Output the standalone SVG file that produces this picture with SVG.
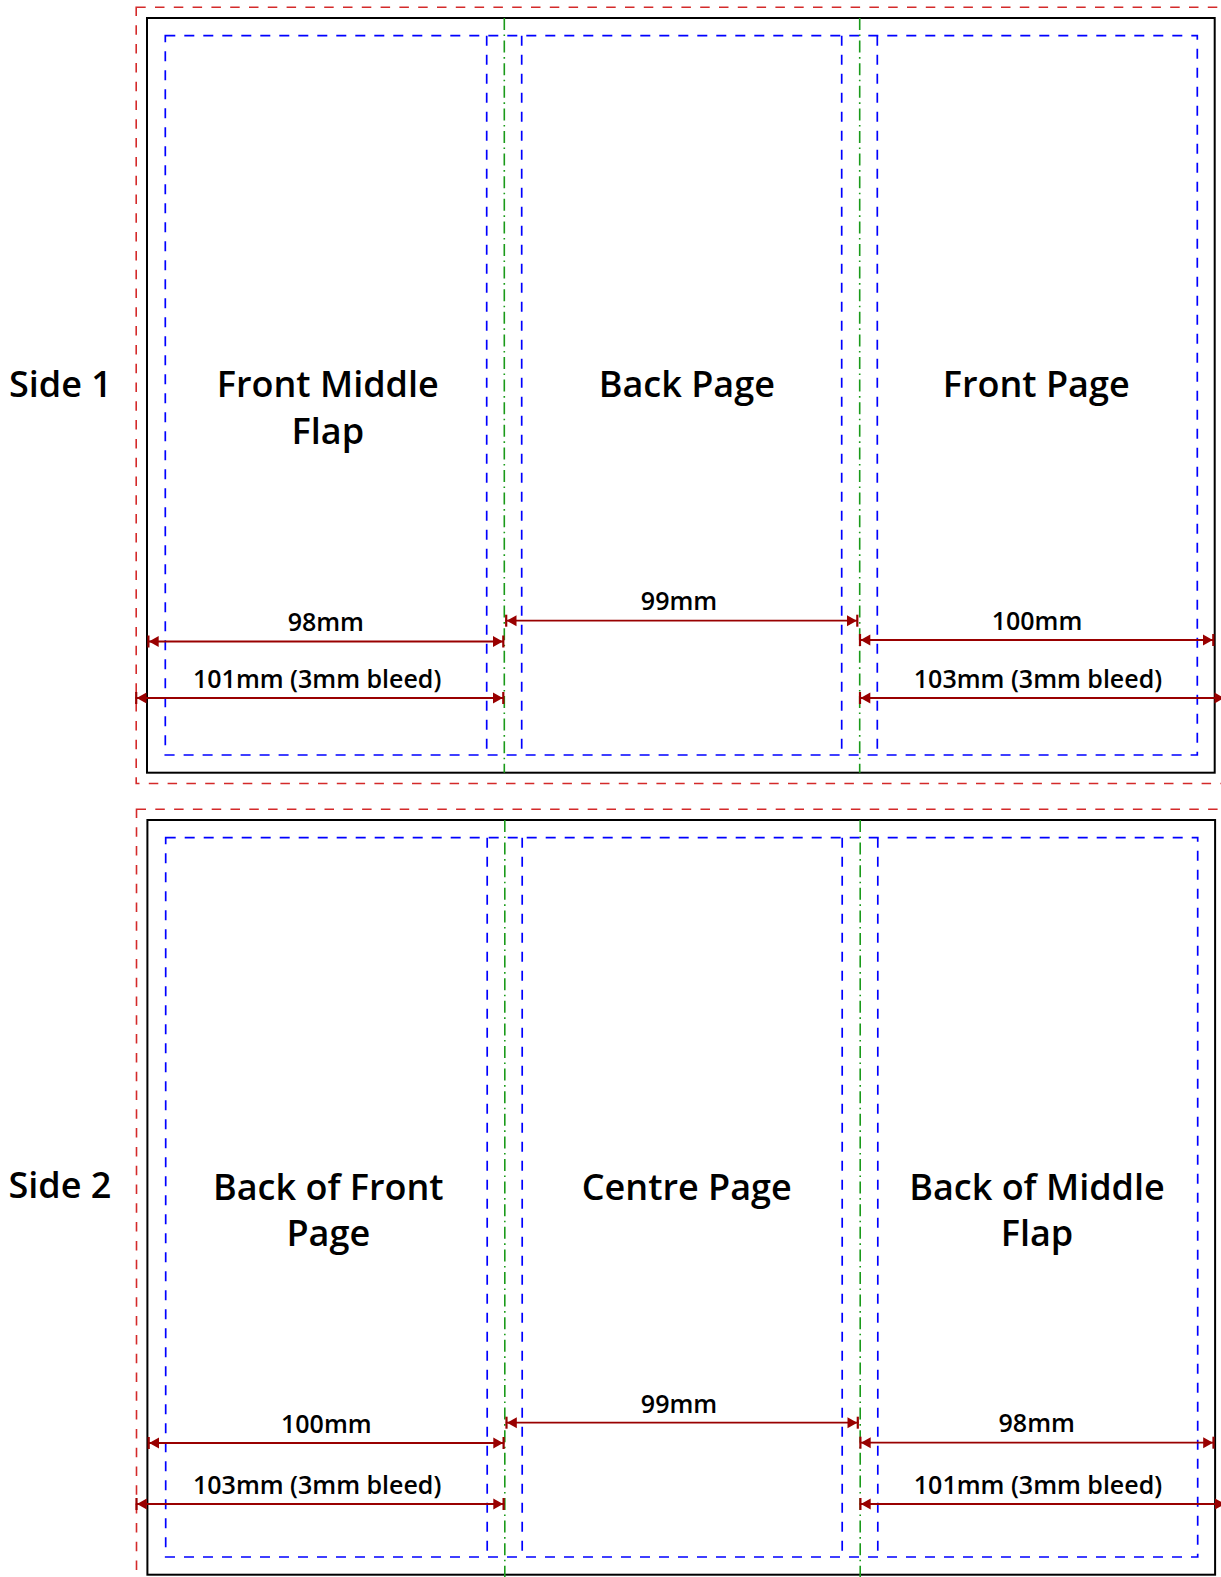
<svg xmlns="http://www.w3.org/2000/svg" width="1221" height="1577" viewBox="0 0 1221 1577">
<defs>
<style>
.bleed{fill:none;stroke:#d42a2a;stroke-width:1.6;stroke-dasharray:9.5 9.3}
.trim{fill:none;stroke:#000;stroke-width:2}
.safe{fill:none;stroke:#0000ff;stroke-width:1.7;stroke-dasharray:10 9}
.fold{fill:none;stroke:#1a9a1a;stroke-width:1.6;stroke-dasharray:12 4.5 1.6 4.5}
.dim{fill:none;stroke:#990000;stroke-width:1.8;marker-start:url(#ah);marker-end:url(#ah)}
.side{font-family:"Open Sans","Liberation Sans",sans-serif;font-weight:600;font-size:36px;fill:#000;text-anchor:middle}
.title{font-family:"Open Sans","Liberation Sans",sans-serif;font-weight:600;font-size:36px;fill:#000;text-anchor:middle}
.lbl{font-family:"Open Sans","Liberation Sans",sans-serif;font-weight:600;font-size:25px;fill:#000;text-anchor:middle}
</style>
<marker id="ah" markerUnits="userSpaceOnUse" viewBox="-14 -8 16 16" refX="0" refY="0" markerWidth="16" markerHeight="16" orient="auto-start-reverse" overflow="visible">
<path d="M-1.2,0 L-11,-5.5 L-11,5.5 Z" fill="#990000"/>
<rect x="-1.8" y="-6" width="2.2" height="12" fill="#990000"/>
</marker>
</defs>
<rect width="1221" height="1577" fill="#fff"/>

<g id="side1">
<g id="side1-frame">
<rect class="bleed" x="136.2" y="7.2" width="1089.3" height="776.3"/>
<rect class="trim" x="147" y="18" width="1067.7" height="754.7"/>
<rect class="safe" x="165.3" y="35.7" width="1032" height="719.3"/>
<line class="safe" x1="486.7" y1="35.7" x2="486.7" y2="755"/>
<line class="safe" x1="521.7" y1="35.7" x2="521.7" y2="755"/>
<line class="safe" x1="841.7" y1="35.7" x2="841.7" y2="755"/>
<line class="safe" x1="877.3" y1="35.7" x2="877.3" y2="755"/>
<line class="fold" x1="504.3" y1="18" x2="504.3" y2="772.7"/>
<line class="fold" x1="859.7" y1="18" x2="859.7" y2="772.7"/>
</g>
<g id="side1-label"><text class="side" x="60.5" y="397">Side 1</text></g>
<g id="front-middle-flap"><text class="title" x="327.8" y="397">Front Middle</text><text class="title" x="327.8" y="443.5">Flap</text></g>
<g id="back-page"><text class="title" x="686.8" y="397">Back Page</text></g>
<g id="front-page"><text class="title" x="1036.2" y="397">Front Page</text></g>
<g id="side1-dims">
<line class="dim" x1="147.7" y1="641.5" x2="504" y2="641.5"/>
<line class="dim" x1="505.5" y1="620.7" x2="858" y2="620.7"/>
<line class="dim" x1="859.3" y1="640" x2="1214" y2="640"/>
<line class="dim" x1="135.5" y1="698" x2="504" y2="698"/>
<line class="dim" x1="859.3" y1="698" x2="1225.5" y2="698"/>
<text class="lbl" x="325.8" y="630.5">98mm</text>
<text class="lbl" x="679" y="610.3">99mm</text>
<text class="lbl" x="1037" y="629.5">100mm</text>
<text class="lbl" x="317.2" y="688">101mm (3mm bleed)</text>
<text class="lbl" x="1038" y="688">103mm (3mm bleed)</text>
</g>
</g>

<g id="side2">
<g id="side2-frame">
<rect class="bleed" x="136.5" y="809.2" width="1089.3" height="776.3"/>
<rect class="trim" x="147.4" y="820" width="1067.7" height="754.7"/>
<rect class="safe" x="165.7" y="837.7" width="1032" height="719.3"/>
<line class="safe" x1="487.2" y1="837.7" x2="487.2" y2="1557"/>
<line class="safe" x1="522.2" y1="837.7" x2="522.2" y2="1557"/>
<line class="safe" x1="842.2" y1="837.7" x2="842.2" y2="1557"/>
<line class="safe" x1="877.8" y1="837.7" x2="877.8" y2="1557"/>
<line class="fold" x1="504.8" y1="820" x2="504.8" y2="1577"/>
<line class="fold" x1="860.2" y1="820" x2="860.2" y2="1577"/>
</g>
<g id="side2-label"><text class="side" x="60" y="1198">Side 2</text></g>
<g id="back-of-front-page"><text class="title" x="328.3" y="1199.5">Back of Front</text><text class="title" x="328.3" y="1245.5">Page</text></g>
<g id="centre-page"><text class="title" x="686.8" y="1199.5">Centre Page</text></g>
<g id="back-of-middle-flap"><text class="title" x="1037" y="1199.5">Back of Middle</text><text class="title" x="1037" y="1245.5">Flap</text></g>
<g id="side2-dims">
<line class="dim" x1="148" y1="1443" x2="504.3" y2="1443"/>
<line class="dim" x1="505.8" y1="1422.7" x2="858.5" y2="1422.7"/>
<line class="dim" x1="859.7" y1="1442.7" x2="1214.2" y2="1442.7"/>
<line class="dim" x1="135.8" y1="1504" x2="504.3" y2="1504"/>
<line class="dim" x1="859.7" y1="1504" x2="1226" y2="1504"/>
<text class="lbl" x="326.3" y="1432.8">100mm</text>
<text class="lbl" x="679" y="1412.7">99mm</text>
<text class="lbl" x="1036.7" y="1431.8">98mm</text>
<text class="lbl" x="317.2" y="1494">103mm (3mm bleed)</text>
<text class="lbl" x="1038" y="1494">101mm (3mm bleed)</text>
</g>
</g>
</svg>
